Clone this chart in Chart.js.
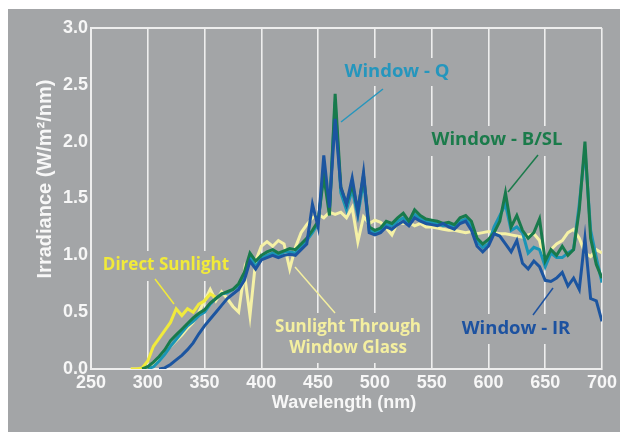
<!DOCTYPE html>
<html>
<head>
<meta charset="utf-8">
<script src="https://cdn.jsdelivr.net/npm/chart.js@4.4.1/dist/chart.umd.min.js"></script>
<style>
  html, body { margin: 0; padding: 0; background: #fff; }
  #wrap { width: 620px; height: 432px; position: relative; }
</style>
</head>
<body>
<div id="wrap"><canvas id="chart"></canvas></div>
<script>
// wavelength grid (nm)
const wavelengths = [280, 285, 290, 295, 300, 305, 310, 315, 320, 325, 330, 335, 340, 345, 350, 355, 360, 365, 370, 375,
  380, 385, 390, 395, 400, 405, 410, 415, 420, 425, 430, 435, 440, 445, 450, 455, 460, 465, 470, 475,
  480, 485, 490, 495, 500, 505, 510, 515, 520, 525, 530, 535, 540, 545, 550, 555, 560, 565, 570, 575,
  580, 585, 590, 595, 600, 605, 610, 615, 620, 625, 630, 635, 640, 645, 650, 655, 660, 665, 670, 675,
  680, 685, 690, 695, 700];

// irradiance, W/m2/nm
const directSunlight = [null, 0, 0, 0.01, 0.07, 0.2, 0.27, 0.34, 0.41, 0.53, 0.47, 0.53, 0.5, 0.57, 0.6, 0.66, 0.63];

const throughGlass = [null, 0, 0, 0, 0.01, 0.04, 0.1, 0.16, 0.2, 0.25, 0.3, 0.36, 0.41, 0.5, 0.6, 0.7, 0.6, 0.68, 0.62, 0.55,
  0.5, 0.85, 0.47, 0.95, 1.08, 1.12, 1.08, 1.13, 1.1, 0.88, 1.07, 1.2, 1.27, 1.33, 1.36, 1.33, 1.38, 1.36, 1.38, 1.33,
  1.42, 1.12, 1.34, 1.28, 1.31, 1.29, 1.24, 1.18, 1.29, 1.28, 1.29, 1.26, 1.28, 1.25, 1.25, 1.24, 1.23, 1.22, 1.22, 1.21,
  1.2, 1.21, 1.19, 1.2, 1.21, 1.2, 1.19, 1.19, 1.18, 1.17, 1.16, 1.18, 1.19, 1.13, 0.92, 1.05, 1.1, 1.13, 1.2, 1.23,
  1.15, 1.02, 0.99, 1.05, 1.02];

const windowQ = [null, null, null, null, 0, 0.02, 0.07, 0.13, 0.2, 0.26, 0.32, 0.38, 0.42, 0.47, 0.5, 0.57, 0.62, 0.66, 0.67, 0.7,
  0.73, 0.82, 1.0, 0.9, 0.98, 1.0, 1.02, 1.0, 1.03, 1.03, 1.02, 1.08, 1.13, 1.2, 1.28, 1.75, 1.4, 2.35, 1.55, 1.4,
  1.58, 1.35, 1.65, 1.22, 1.2, 1.22, 1.27, 1.26, 1.3, 1.33, 1.28, 1.36, 1.32, 1.3, 1.29, 1.28, 1.26, 1.27, 1.25, 1.3,
  1.32, 1.26, 1.12, 1.07, 1.1, 1.25, 1.35, 1.45, 1.22, 1.25, 1.2, 1.02, 1.07, 1.05, 0.9, 1.02, 0.98, 0.98, 1.02, 1.05,
  1.45, 1.93, 1.22, 0.98, 0.76];

const windowBSL = [null, null, null, 0, 0.02, 0.06, 0.11, 0.17, 0.25, 0.3, 0.35, 0.4, 0.45, 0.49, 0.52, 0.58, 0.62, 0.66, 0.68, 0.7,
  0.75, 0.85, 1.02, 0.95, 1.0, 1.03, 1.05, 1.02, 1.04, 1.06, 1.05, 1.1, 1.15, 1.22, 1.3, 1.7, 1.35, 2.42, 1.6, 1.45,
  1.62, 1.4, 1.7, 1.25, 1.22, 1.24, 1.3, 1.28, 1.33, 1.37, 1.3, 1.4, 1.35, 1.32, 1.31, 1.3, 1.28, 1.29, 1.27, 1.33,
  1.35, 1.3, 1.15, 1.1, 1.14, 1.2, 1.3, 1.55, 1.25, 1.35, 1.22, 1.15, 1.2, 1.32, 0.95, 1.05, 1.0, 1.08, 1.0, 1.05,
  1.4, 2.0, 1.15, 0.92, 0.8];

const windowIR = [null, null, null, null, null, null, 0, 0.01, 0.04, 0.08, 0.12, 0.17, 0.23, 0.31, 0.38, 0.44, 0.5, 0.56, 0.62, 0.66,
  0.7, 0.78, 0.95, 0.88, 0.96, 0.98, 1.0, 0.98, 1.0, 1.01, 1.0, 1.05, 1.1, 1.45, 1.25, 1.88, 1.42, 2.2, 1.6, 1.45,
  1.68, 1.38, 1.73, 1.2, 1.18, 1.2, 1.25, 1.23, 1.27, 1.3, 1.26, 1.33, 1.3, 1.28, 1.27, 1.26, 1.28, 1.25, 1.23, 1.28,
  1.3, 1.22, 1.08, 1.03, 1.08, 1.19, 1.17, 1.1, 1.03, 1.13, 0.93, 0.88, 0.95, 0.9, 0.78, 0.77, 0.8, 0.85, 0.73, 0.8,
  0.7, 1.15, 0.62, 0.6, 0.42];

const xTicks = [250, 300, 350, 400, 450, 500, 550, 600, 650, 700];
const yTicks = [0, 0.5, 1.0, 1.5, 2.0, 2.5, 3.0];

const BG = '#a3a5a7';
const GRID = '#eeeeee';
const TICK_FONT = '"Liberation Sans", Arial, sans-serif';

function points(values) {
    const out = [];
    values.forEach((v, i) => {
        if (v !== null && v !== undefined) out.push({ x: wavelengths[i], y: v });
    });
    return out;
}

function series(label, values, color) {
    return {
        label: label,
        data: points(values),
        borderColor: color,
        backgroundColor: color,
        borderWidth: 3,
        pointRadius: 0,
        tension: 0,
        fill: false
    };
}

// labels placed on the plot, with a grey box that hides the grid behind them
const notes = [
    { lines: ['Window - Q'], color: '#2596bd', size: 18.5, x: 397, y: 72, box: [338, 58, 120, 28], lead: [383, 89, 341, 122] },
    { lines: ['Window - B/SL'], color: '#1b7b4b', size: 18.5, x: 497, y: 140, box: [426, 126, 144, 30], lead: [538, 155, 508, 192] },
    { lines: ['Direct Sunlight'], color: '#f1ea3a', size: 17, x: 166, y: 265, box: [100, 251, 132, 30], lead: [155, 279, 174, 304] },
    { lines: ['Sunlight Through', 'Window Glass'], color: '#f4efa0', size: 17, x: 348, y: 327, dy: 21, box: [268, 313, 160, 50], lead: [295, 267, 335, 313] },
    { lines: ['Window - IR'], color: '#1d52a0', size: 18.5, x: 516, y: 329, box: [454, 314, 124, 30], lead: [553, 288, 533, 315] }
];

const backdrop = {
    id: 'backdrop',
    beforeDraw(chart) {
        const c = chart.ctx;
        c.save();
        c.fillStyle = '#ffffff';
        c.fillRect(0, 0, chart.width, chart.height);
        c.fillStyle = BG;
        c.fillRect(8, 9, chart.width - 8, chart.height - 9);
        c.restore();
    },
    beforeDatasetsDraw(chart) {
        const c = chart.ctx;
        c.save();
        notes.forEach(n => {
            c.fillStyle = BG;
            c.fillRect(n.box[0], n.box[1], n.box[2], n.box[3]);
            c.strokeStyle = n.color;
            c.lineWidth = 1.5;
            c.beginPath();
            c.moveTo(n.lead[0], n.lead[1]);
            c.lineTo(n.lead[2], n.lead[3]);
            c.stroke();
            c.fillStyle = n.color;
            c.font = 'bold ' + n.size + 'px "Open Sans", sans-serif';
            c.textAlign = 'center';
            c.textBaseline = 'middle';
            n.lines.forEach((t, i) => c.fillText(t, n.x, n.y + i * (n.dy || 0)));
        });
        c.restore();
    },
    afterDraw(chart) {
        const c = chart.ctx;
        c.save();
        c.fillStyle = '#f7f7f7';
        c.textAlign = 'center';
        c.textBaseline = 'middle';
        c.font = 'bold 18px ' + TICK_FONT;
        c.fillText('Wavelength (nm)', 344, 403);
        c.translate(45, 179);
        c.rotate(-Math.PI / 2);
        c.font = 'bold 20px ' + TICK_FONT;
        c.fillText('Irradiance (W/m\u00B2/nm)', 0, 0);
        c.restore();
    }
};

const ctx = document.getElementById('chart').getContext('2d');
const chart = new Chart(ctx, {
    type: 'line',
    data: {
        datasets: [
            series('Window - IR', windowIR, '#1c55a0'),
            series('Window - B/SL', windowBSL, '#187a4c'),
            series('Window - Q', windowQ, '#1a95b6'),
            series('Direct Sunlight', directSunlight, '#f0ea3c'),
            series('Sunlight Through Window Glass', throughGlass, '#f5f1a6')
        ]
    },
    options: {
        responsive: true,
        maintainAspectRatio: false,
        animation: false,
        devicePixelRatio: 1,
        layout: {
            padding: { left: 0, right: 18, top: 28, bottom: 0 }
        },
        scales: {
            x: {
                type: 'linear',
                min: 250,
                max: 700,
                afterBuildTicks: scale => { scale.ticks = xTicks.map(v => ({ value: v })); },
                afterFit: scale => { scale.height = 63; },
                grid: { color: GRID, lineWidth: 1.6, drawTicks: false },
                border: { display: true, color: GRID, width: 2 },
                ticks: {
                    color: '#f7f7f7',
                    padding: 3,
                    maxRotation: 0,
                    font: { family: TICK_FONT, size: 18, weight: 'bold' }
                }
            },
            y: {
                min: 0,
                max: 3,
                afterBuildTicks: scale => { scale.ticks = yTicks.map(v => ({ value: v })); },
                afterFit: scale => { scale.width = 91; },
                grid: {
                    color: c => (c.tick && c.tick.value === 3 ? GRID : 'rgba(0,0,0,0)'),
                    lineWidth: 2,
                    drawTicks: false
                },
                border: { display: true, color: GRID, width: 2 },
                ticks: {
                    color: '#f7f7f7',
                    padding: 3,
                    callback: v => v.toFixed(1),
                    font: { family: TICK_FONT, size: 18, weight: 'bold' }
                }
            }
        },
        plugins: {
            legend: { display: false },
            tooltip: { enabled: false }
        }
    },
    plugins: [backdrop]
});
</script>
</body>
</html>
